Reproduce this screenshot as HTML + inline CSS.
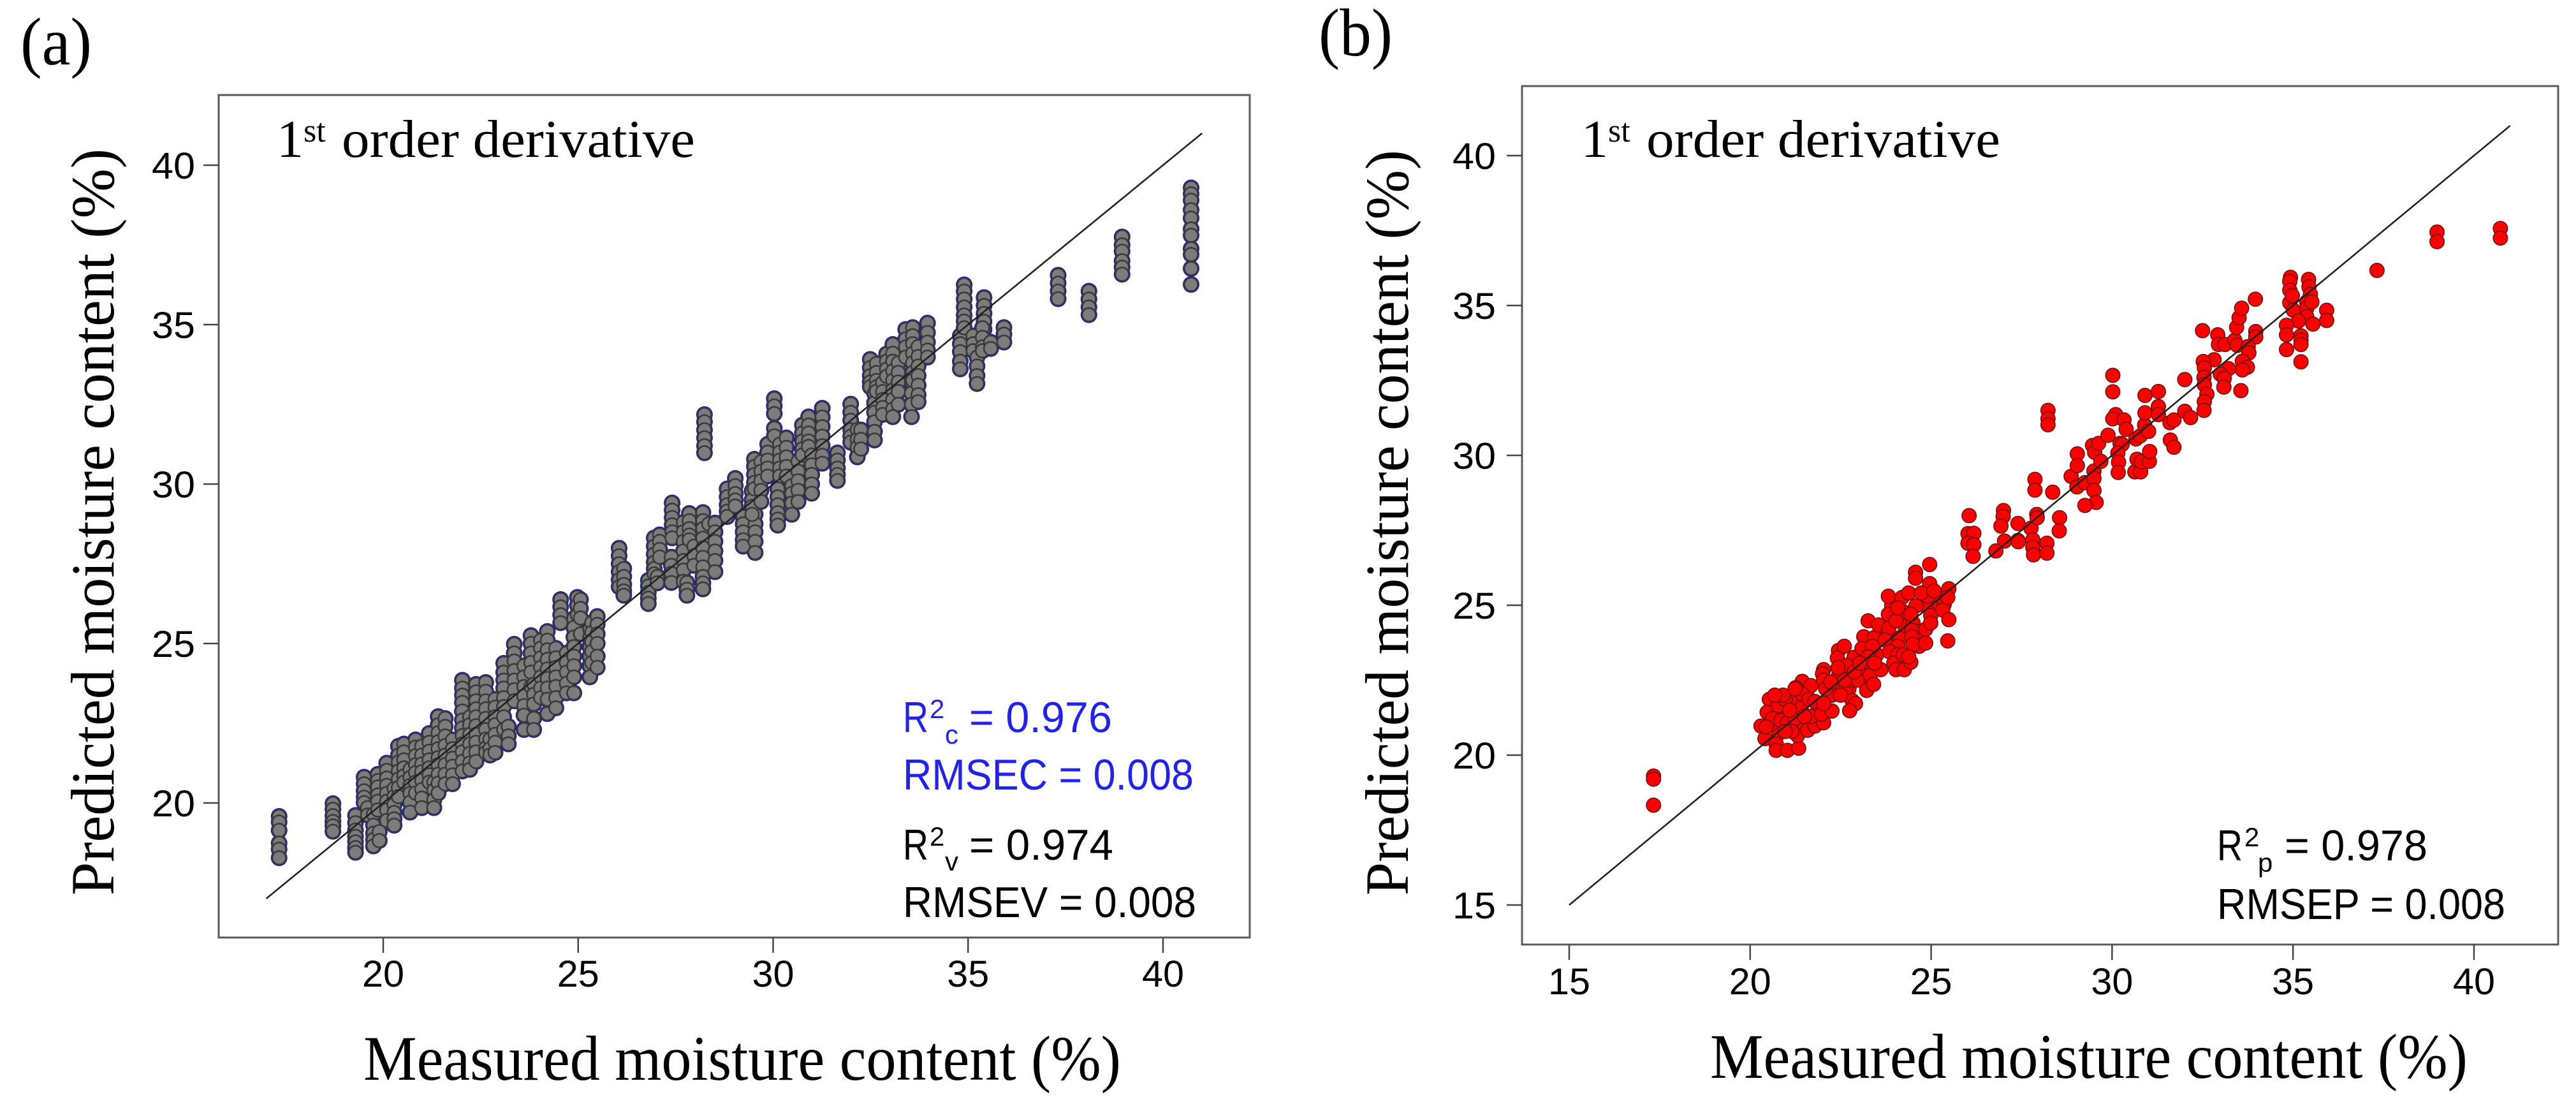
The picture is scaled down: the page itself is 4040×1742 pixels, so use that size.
<!DOCTYPE html>
<html lang="en">
<head>
<meta charset="utf-8">
<title>Predicted vs measured moisture content</title>
<style>
html,body{margin:0;padding:0;background:#fff;}
svg{display:block;}
text{font-family:"Liberation Serif",serif;fill:#000;}
.sans{font-family:"Liberation Sans",sans-serif;}
</style>
</head>
<body>
<svg id="figure" xmlns="http://www.w3.org/2000/svg" width="4040" height="1742" viewBox="0 0 4040 1742">
<rect width="4040" height="1742" fill="#fff"/>
<text x="32" y="101" font-size="106" textLength="112" lengthAdjust="spacingAndGlyphs">(a)</text>
<text x="2068" y="87" font-size="106" textLength="116" lengthAdjust="spacingAndGlyphs">(b)</text>

<g id="panelA"></g>
<g id="panelB"></g>

<g>
<text x="434" y="246" font-size="84">1</text>
<text x="476" y="222" font-size="52">st</text>
<text x="536" y="246" font-size="84" textLength="554" lengthAdjust="spacingAndGlyphs">order derivative</text>
<text x="570" y="1693" font-size="100" textLength="1188" lengthAdjust="spacingAndGlyphs">Measured moisture content (%)</text>
<text transform="translate(178,1404) rotate(-90)" font-size="96" textLength="1171" lengthAdjust="spacingAndGlyphs">Predicted moisture content (%)</text>

<g style="fill:#2222ee">
<text class="sans" x="1416" y="1148" font-size="68" style="fill:#2222ee" textLength="40" lengthAdjust="spacingAndGlyphs">R</text>
<text class="sans" x="1458" y="1126" font-size="42" style="fill:#2222ee">2</text>
<text class="sans" x="1482" y="1166" font-size="42" style="fill:#2222ee">c</text>
<text class="sans" x="1520" y="1148" font-size="68" style="fill:#2222ee" textLength="224" lengthAdjust="spacingAndGlyphs">= 0.976</text>
</g>
<text class="sans" x="1416" y="1238" font-size="68" style="fill:#2222ee" textLength="456" lengthAdjust="spacingAndGlyphs">RMSEC = 0.008</text>
<g>
<text class="sans" x="1416" y="1348" font-size="68" textLength="40" lengthAdjust="spacingAndGlyphs">R</text>
<text class="sans" x="1458" y="1326" font-size="42">2</text>
<text class="sans" x="1482" y="1365" font-size="42">v</text>
<text class="sans" x="1520" y="1348" font-size="68" textLength="226" lengthAdjust="spacingAndGlyphs">= 0.974</text>
</g>
<text class="sans" x="1416" y="1438" font-size="68" textLength="460" lengthAdjust="spacingAndGlyphs">RMSEV = 0.008</text>
</g>

<g>
<text x="2480" y="246" font-size="84">1</text>
<text x="2522" y="222" font-size="52">st</text>
<text x="2582" y="246" font-size="84" textLength="555" lengthAdjust="spacingAndGlyphs">order derivative</text>
<text x="2682" y="1690" font-size="100" textLength="1188" lengthAdjust="spacingAndGlyphs">Measured moisture content (%)</text>
<text transform="translate(2208,1404) rotate(-90)" font-size="96" textLength="1169" lengthAdjust="spacingAndGlyphs">Predicted moisture content (%)</text>
<text class="sans" x="3477" y="1349" font-size="68" textLength="40" lengthAdjust="spacingAndGlyphs">R</text>
<text class="sans" x="3520" y="1327" font-size="42">2</text>
<text class="sans" x="3541" y="1367" font-size="42">p</text>
<text class="sans" x="3583" y="1349" font-size="68" textLength="224" lengthAdjust="spacingAndGlyphs">= 0.978</text>
<text class="sans" x="3477" y="1441" font-size="68" textLength="452" lengthAdjust="spacingAndGlyphs">RMSEP = 0.008</text>
</g>
</svg>

<script>
const panelAXTicks = [20, 25, 30, 35, 40];
const panelAYTicks = [20, 25, 30, 35, 40];
const panelBXTicks = [15, 20, 25, 30, 35, 40];
const panelBYTicks = [15, 20, 25, 30, 35, 40];
const panelALine = [17, 41];
const panelBLine = [15, 41];

const calMeasured = [
17.33,18.71,19.29,19.51,19.6,19.75,19.9,19.86,20.09,20.28,20.39,20.53,20.69,20.83,20.99,21.18,21.3,21.41,21.59,21.78,
22.03,22.22,22.38,22.63,22.74,22.87,23.09,23.21,23.36,23.61,23.79,23.86,24.04,24.21,24.43,24.55,24.7,24.89,24.98,25.06,
25.3,25.35,25.49,26.05,26.17,26.8,26.95,27.09,27.03,27.41,27.39,27.7,27.79,27.85,27.97,28.2,28.24,28.35,28.51,28.82,
29.03,29.23,29.54,29.46,29.52,29.69,29.86,30.03,30.03,30.17,30.12,30.34,30.48,30.64,30.75,30.91,30.99,31.26,31.65,31.99,
32.16,32.25,32.49,32.6,32.65,32.81,32.91,33.07,33.21,33.4,33.55,33.58,33.72,33.96,34.8,34.9,35.13,35.23,35.41,35.37,
35.58,35.92,37.31,38.1,38.95,40.72
];
const calPredicted = [
[19.58,19.4,19.14,18.74,18.55,18.28],[19.98,19.8,19.6,19.42,19.28,19.11],[19.61,19.38,19.15,18.95,18.78,18.6,18.45],[20.81,20.6,20.38,20.18,20.01],[19.85,19.62],
[19.65,19.3,19.05,18.85,18.65],[19.1,18.82],[20.9,20.7,20.5,20.25,20.05,19.78],[21.25,21.02,20.78,20.55,20.3,20.05,19.78,19.45],[20.45,20.2,19.95,19.7,19.5,19.3],
[21.78,21.5,21.28,21.0,20.75,20.48,20.2],[21.85,21.6,21.35,21.1,20.85,20.65],[21.05,20.8,20.55,20.3,20.02,19.71],[21.98,21.75,21.48,21.2,20.95,20.65,20.31],[21.78,21.5,21.22,20.98,20.7,20.42,20.15,19.85],
[22.18,21.9,21.62,21.35,21.1,20.88,20.65],[20.65,20.4,20.1,19.85],[22.71,22.45,22.2,21.92,21.7,21.42,21.2,20.9,20.62,20.31],[22.65,22.4,22.1,21.8,21.5,21.2,20.9,20.6],[21.98,21.7,21.4,21.15,20.88,20.6],
[23.85,23.6,23.38,23.15,22.88,22.6,22.35,22.11,21.85,21.6,21.3,21.0],[22.7,22.45,22.15,21.85,21.55,21.25,21.05],[23.72,23.48,23.2,22.95,22.7,22.42,22.15,21.9,21.6,21.3],[23.78,23.5,23.2,22.95,22.65,22.3,22.0,21.72,21.58],[22.0,21.7,21.5],
[23.25,23.0,22.7,22.45,22.15,21.9,21.58],[24.38,24.1,23.85,23.6,23.3,23.02,22.7,22.3],[22.4,22.1,21.85],[24.98,24.7,24.45,24.15,23.85,23.55,23.2],[24.3,23.95,23.65,23.35,23.05,22.75,22.3],
[25.25,25.0,24.7,24.4,24.1,23.65],[23.72,23.4,23.1,22.65,22.3],[25.1,24.85,24.55,24.25,23.95,23.6,23.3],[25.38,25.1,24.8,24.5,24.2,23.9,23.6,23.25,22.8],[24.85,24.55,24.25,23.95,23.65,23.3,22.98],
[26.38,26.15,25.9,25.65],[24.7,24.4,24.1,23.75,23.45],[25.78,25.5,25.2,24.9,24.6,24.3,23.95,23.45],[26.45,26.2,25.9],[26.38,26.1,25.8,25.3],
[25.45,25.2,24.9,24.6,24.3,23.95],[25.65,25.35,25.05,24.75,24.4],[25.85,25.6,25.3,25.0,24.6,24.25],[27.99,27.75,27.5,27.25,27.0,26.78],[27.35,27.1,26.85,26.65,26.51],
[26.98,26.8,26.6,26.42,26.25],[28.31,28.05,27.8,27.55,27.35,27.18],[28.41,28.2,27.95,27.71],[27.1,26.9],[29.41,29.18,28.95,28.72,28.5,28.31],
[27.71,27.45,27.2,26.91],[28.8,28.5,28.2,27.9,27.6,27.3,26.95],[26.91,26.7,26.51],[29.08,28.85,28.6,28.4,28.25],[28.05,27.75,27.45],
[29.11,28.85,28.6,28.3,28.0,27.7,27.4,27.1,26.9,26.71],[32.18,31.95,31.7,31.45,31.2,30.98],[28.75],[28.78,28.5,28.2,27.9,27.6,27.25],[29.85,29.6,29.35,29.15,28.98],
[30.18,29.95,29.7,29.5,29.31],[28.98,28.75,28.5,28.25,28.05],[29.05,28.75,28.5,28.2,27.85],[29.78,29.5,29.3,29.05],[30.78,30.55,30.3,30.05,29.85],
[30.7,30.4,30.1,29.8,29.45],[31.25,31.0,30.75,30.5,30.25],[32.68,32.45,32.21],[31.75,31.51],[31.25,31.0,30.75,30.5,30.25],
[29.85,29.6,29.35,29.1,28.9,28.71],[31.45,31.15,30.85,30.55,30.25],[29.95,29.71,29.4,29.05],[30.71,30.4,30.1,29.8,29.45],[31.85,31.6,31.35,31.1,30.91],
[32.11,31.85,31.6,31.35,31.18],[30.91,30.6,30.3,30.0,29.71],[32.38,32.1,31.8,31.5,31.2,30.9,30.65],[30.98,30.75,30.5,30.3,30.11],[32.51,32.25,32.0,31.7,31.5,31.31],
[31.71,31.4,31.15,30.85],[31.7,31.4,31.1],[33.91,33.65,33.4,33.2,33.05],[32.85,32.55,32.25,31.95,31.65,31.38],[33.78,33.5,33.25,33.05,32.91],
[33.18,32.9,32.65,32.4,32.18],[34.08,33.85,33.6,33.38],[34.38,34.1,33.85,33.55,33.25,32.95,32.65,32.35,32.11],[33.8,33.5,33.2,32.9,32.5],[34.85,34.55,34.3,33.98],
[33.2,32.85,32.5,32.11],[34.91,34.65,34.4,34.1,33.8,33.5,33.25],[34.31,34.0,33.7,33.4,33.1,32.8,32.58],[35.05,34.75,34.45,34.2,33.98],[34.65,34.4,34.15,33.85,33.61],
[36.25,36.05,35.8,35.55,35.3,35.11,34.9],[34.65,34.4,34.18],[33.98,33.7,33.4,33.15],[35.85,35.6,35.35,35.1,34.85,34.58],[34.9,34.6,34.3,34.18],
[34.45,34.25],[34.91,34.7,34.45],[36.55,36.3,36.05,35.81],[36.05,35.8,35.55,35.31],[37.75,37.5,37.3,37.0,36.8,36.58],
[39.29,39.1,38.9,38.6,38.34,38.0,37.8,37.38,37.2,36.76,36.26]
];

const predMeasured = [
17.33,17.33,17.33,
20.62,20.91,21.26,21.56,21.32,21.5,20.79,22.15,22.32,22.56,22.73,22.97,23.14,23.32,23.5,23.55,23.79,23.91,24.14,24.26,23.91,24.26,24.08,24.5,24.67,24.67,24.03,24.32,25.08,25.2,24.85,
20.3,20.41,20.53,20.56,20.47,20.72,20.72,20.78,21.03,21.34,21.31,20.97,20.91,20.62,20.85,21.03,21.24,21.41,21.44,21.26,21.68,21.44,21.62,21.59,21.79,22.03,21.85,21.68,21.09,21.24,21.15,20.97,21.5,21.79,21.97,20.68,20.44,
22.03,22.0,22.03,22.26,22.09,22.44,22.6,22.41,22.87,22.67,22.44,22.64,22.82,22.91,22.75,22.26,22.5,22.79,22.03,22.97,22.23,22.62,22.88,22.43,
23.26,23.14,23.09,23.43,23.38,23.26,23.32,23.61,23.22,23.41,23.44,23.03,23.55,23.82,23.82,23.83,24.03,23.73,23.85,24.08,23.97,24.03,24.26,24.44,24.23,24.47,24.47,24.5,24.38,24.85,24.85,24.99,24.99,24.96,24.91,24.2,24.38,24.58,24.44,24.08,24.73,25.08,25.36,25.32,25.49,25.46,25.49,25.46,24.57,24.57,24.96,
26.05,26.02,26.18,26.02,26.18,26.16,27.0,26.99,26.93,27.03,26.79,27.4,27.4,27.41,27.76,27.92,27.93,27.81,27.81,27.83,28.2,28.2,28.55,28.54,27.87,27.87,28.36,28.87,29.03,29.25,29.04,29.04,29.5,29.5,29.5,29.56,29.25,29.46,29.52,29.63,29.69,29.89,30.02,30.02,30.1,30.02,30.33,30.39,30.22,30.28,30.16,30.18,30.17,30.63,30.79,30.69,30.81,31.03,31.04,30.66,30.78,30.9,31.01,30.91,31.28,30.91,31.28,31.28,31.6,31.71,31.61,31.71,32.01,32.01,32.17,28.23,28.23,28.23,
32.5,32.92,32.94,33.12,33.39,33.46,33.44,33.51,33.58,33.96,33.97,33.97,33.76,33.78,33.6,33.74,33.6,33.22,32.99,32.82,32.52,32.55,32.54,33.1,33.09,32.55,32.62,32.55,32.54,33.56,
34.93,34.91,34.91,34.91,35.01,35.43,35.44,35.48,35.38,35.38,35.38,35.15,35.55,34.82,34.82,34.82,35.22,35.22,35.22,35.22,35.93,35.93,37.32,38.98,38.98,40.73,40.73,35.52,34.98
];
const predPredicted = [
19.3,19.2,18.33,
21.65,21.43,21.72,22.07,21.22,20.94,20.72,22.21,22.36,22.78,22.21,23.07,22.64,23.07,23.35,23.92,24.2,23.77,23.92,24.34,24.98,24.77,23.63,24.41,24.13,23.63,23.14,23.07,24.98,25.33,24.98,
20.97,20.55,21.86,21.01,21.43,20.37,20.16,21.65,20.16,20.23,20.65,21.86,22.0,21.22,21.15,21.08,21.22,21.57,22.46,22.25,22.32,22.04,21.86,20.83,20.97,21.08,21.43,21.29,21.5,22.21,20.79,20.79,21.29,21.79,21.36,22.0,20.94,
22.85,22.71,22.5,22.0,22.21,23.49,23.63,23.24,23.26,22.99,22.64,22.21,21.82,21.72,21.48,21.47,22.0,22.5,21.72,22.5,22.43,22.5,22.78,22.92,
24.48,23.95,23.56,23.92,23.63,23.28,22.67,22.85,22.16,22.36,23.07,23.07,24.34,25.3,24.7,24.23,24.48,23.84,23.45,23.35,23.07,22.85,22.85,23.1,23.35,24.16,23.95,23.7,23.28,23.74,24.2,24.66,24.41,25.72,25.3,25.26,25.41,24.98,24.7,24.91,25.41,25.48,25.02,24.84,24.52,23.81,25.55,25.26,26.1,25.9,26.36,
27.99,27.39,27.4,27.07,27.02,26.63,28.16,27.96,27.64,27.14,26.81,27.73,27.16,27.12,27.57,28.03,27.92,27.18,26.93,26.68,27.07,26.74,27.92,27.48,29.2,28.84,28.77,29.3,28.95,29.09,30.05,29.66,29.48,29.23,28.83,28.43,28.33,30.33,30.1,30.4,29.8,30.67,32.67,32.12,31.36,31.22,31.18,30.87,30.4,30.37,30.08,29.77,29.43,29.45,29.45,29.87,29.79,29.8,30.13,30.55,30.65,31.01,30.8,32.0,32.13,31.42,31.63,31.36,31.09,31.18,30.51,30.27,32.53,31.47,31.26,31.5,31.22,31.02,
34.16,34.02,33.7,33.7,33.84,33.67,34.27,34.59,34.91,35.21,34.13,33.95,33.63,33.42,33.14,32.94,32.85,32.89,32.71,33.19,33.13,32.92,32.6,32.57,32.28,32.36,32.04,31.79,31.5,32.16,
35.94,35.8,35.51,35.09,34.84,35.87,35.62,35.37,35.12,34.91,34.62,34.48,34.38,34.34,34.02,33.53,33.99,33.84,33.7,33.12,34.84,34.5,36.17,37.45,37.13,37.57,37.25,35.12,35.33
];

const SVG_NS = 'http://www.w3.org/2000/svg';
function make(tag, attrs, parent) {
  const el = document.createElementNS(SVG_NS, tag);
  for (const k in attrs) el.setAttribute(k, attrs[k]);
  parent.appendChild(el);
  return el;
}

function xScaleA(v) { return 601 + (v - 20) * 61.15; }
function yScaleA(v) { return 1259 - (v - 20) * 50.0; }
function xScaleB(v) { return 2461 + (v - 15) * 56.76; }
function yScaleB(v) { return 1419 - (v - 15) * 47.0; }

function drawFrame(parent, box) {
  const el = make('rect', {x: box.l, y: box.t, width: box.r - box.l, height: box.b - box.t, fill: 'none', stroke: '#5a5a5a', 'stroke-width': 3}, parent);
  
  
}

function drawTicks(parent, box, xs, ys, xTicks, yTicks, cfg) {
  xTicks.forEach(function (t) {
    const tick = make('line', {x1: xs(t), x2: xs(t), y1: box.b, y2: box.b + 24, stroke: '#444', 'stroke-width': 2.5}, parent);
    
    
    const label = make('text', {x: xs(t) - 33, y: cfg.xLabelY, 'font-size': 58, textLength: 66, lengthAdjust: 'spacingAndGlyphs', 'class': 'sans'}, parent);
    label.textContent = String(t);
    
    
  });
  yTicks.forEach(function (t) {
    const tick = make('line', {x1: box.l - 24, x2: box.l, y1: ys(t), y2: ys(t), stroke: '#444', 'stroke-width': 2.5}, parent);
    
    
    const label = make('text', {x: cfg.yLabelX, y: ys(t) + 21, 'font-size': 58, textLength: 68, lengthAdjust: 'spacingAndGlyphs', 'class': 'sans'}, parent);
    label.textContent = String(t);
    
    
  });
}

function drawIdentity(parent, xs, ys, range) {
  const el = make('line', {x1: xs(range[0]), y1: ys(range[0]), x2: xs(range[1]), y2: ys(range[1]), stroke: '#222', 'stroke-width': 2.6}, parent);
  
  
}

const groupA = document.getElementById('panelA');
const groupB = document.getElementById('panelB');
const boxA = {l: 343, r: 1960, t: 149, b: 1470};
const boxB = {l: 2387, r: 4012, t: 135, b: 1481};

drawFrame(groupA, boxA);
drawTicks(groupA, boxA, xScaleA, yScaleA, panelAXTicks, panelAYTicks, {xLabelY: 1547, yLabelX: 238});

const haloLayer = make('g', {}, groupA);


const pointLayerA = make('g', {}, groupA);



calMeasured.forEach(function (mx, i) {
  calPredicted[i].forEach(function (my) {
    const halo = make('circle', {cx: xScaleA(mx), cy: yScaleA(my), r: 13, fill: '#1414c8'}, haloLayer);
    
    
    const dot = make('circle', {cx: xScaleA(mx), cy: yScaleA(my), r: 10.6, fill: '#7c7c7c', stroke: '#3a3a3a', 'stroke-width': 2.6}, pointLayerA);
    
    
  });
});
drawIdentity(groupA, xScaleA, yScaleA, panelALine);

drawFrame(groupB, boxB);
drawTicks(groupB, boxB, xScaleB, yScaleB, panelBXTicks, panelBYTicks, {xLabelY: 1559, yLabelX: 2278});

const pointLayerB = make('g', {}, groupB);


predMeasured.forEach(function (mx, i) {
  const dot = make('circle', {cx: xScaleB(mx), cy: yScaleB(predPredicted[i]), r: 11.2, fill: '#ff0000', stroke: '#6e1414', 'stroke-width': 1.6}, pointLayerB);
  
  
});
drawIdentity(groupB, xScaleB, yScaleB, panelBLine);
</script>
</body>
</html>
